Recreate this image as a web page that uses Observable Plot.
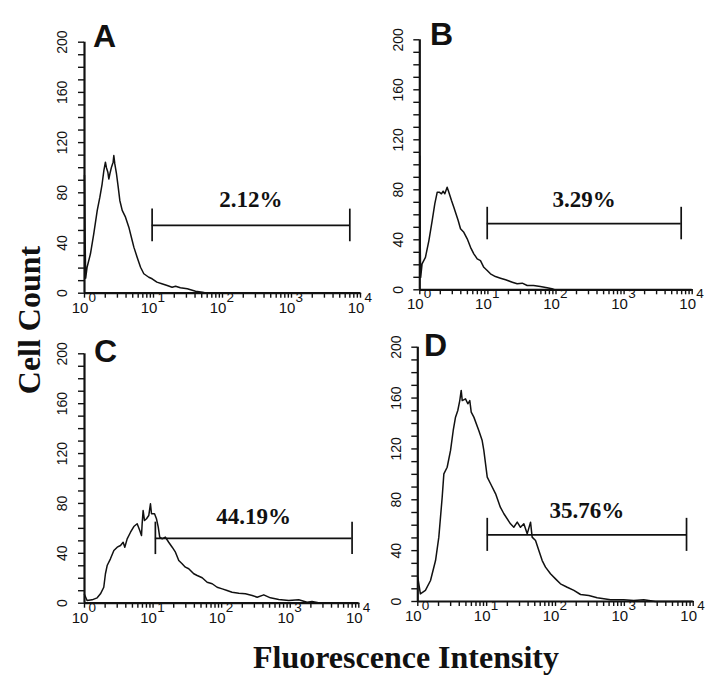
<!DOCTYPE html>
<html><head><meta charset="utf-8">
<script src="https://cdn.jsdelivr.net/npm/d3@7"></script>
<script src="https://cdn.jsdelivr.net/npm/@observablehq/plot@0.6"></script>
<style>
body{margin:0;background:#fff;}
#wrap{position:relative;width:720px;height:686px;overflow:hidden;background:#fff;}
#wrap > svg{display:block;}
</style></head><body><div id="wrap"></div>
<script>
// ---- data ----
const panelLetters = ["A", "B", "C", "D"];
const gatePercent = ["2.12%", "3.29%", "44.19%", "35.76%"];
const gateStart = [9.55, 9.77, 10.8, 10.2];
const gateEnd = [7000, 6890, 7980, 8000];
const gateLevel = [54, 53, 52, 52.4];

const decades = [0, 1, 2, 3, 4];
const yTickLabels = [0, 40, 80, 120, 160, 200];
const xAxisLabel = "Fluorescence Intensity";
const yAxisLabel = "Cell Count";

const intensityA = [1.00, 1.02, 1.04, 1.09, 1.22, 1.36, 1.53, 1.67, 1.80, 1.91, 2.01, 2.08, 2.18, 2.25, 2.33, 2.46, 2.60, 2.66, 2.75, 2.91, 3.08, 3.25, 3.52, 3.93, 4.39, 4.91, 5.19, 5.79, 6.49, 7.24, 8.55, 9.55, 11.2, 13.2, 15.8, 18.6, 20.9, 24.5, 30.9, 40.7, 51.3, 60, 10000];
const countA = [94, 45, 12, 20.7, 31.4, 47, 66, 76.5, 87, 97.8, 104.4, 100, 96.4, 91, 95, 100.4, 104.4, 109.7, 103, 95, 84.5, 73.9, 66, 60.6, 52.6, 42, 36.7, 28.7, 20.7, 15.5, 12.7, 11.5, 8.8, 7.5, 6.1, 4.8, 5.6, 4.3, 3.5, 1.6, 0.8, 0, 0];

const intensityB = [1.00, 1.015, 1.03, 1.08, 1.21, 1.36, 1.52, 1.66, 1.80, 1.95, 2.08, 2.20, 2.33, 2.52, 2.67, 2.92, 3.16, 3.34, 3.66, 3.96, 4.43, 4.97, 5.56, 6.21, 6.97, 7.78, 8.71, 9.77, 10.9, 12.9, 15.3, 18.2, 22.8, 26.9, 31.9, 37.8, 46.8, 58.9, 74.1, 87.1, 95, 10000];
const countB = [107, 35, 10, 20.8, 26, 39.4, 55.4, 68.8, 78, 78, 76.8, 78.9, 76.8, 82, 78, 71.4, 66, 62, 55.4, 48.8, 46, 40.8, 34, 28.8, 24.8, 23.4, 18, 15.4, 12.8, 10.6, 9.3, 8, 6.1, 4.8, 5.3, 3.4, 3.4, 2.6, 1.6, 0.8, 0, 0];

const intensityC = [1.00, 1.09, 1.29, 1.53, 1.71, 1.91, 2.02, 2.14, 2.39, 2.68, 3.00, 3.35, 3.66, 3.87, 4.19, 4.69, 5.24, 5.86, 6.40, 6.78, 6.93, 7.16, 7.50, 8.02, 8.65, 9.16, 9.48, 10.5, 11.2, 11.9, 12.5, 13.6, 15.1, 16.9, 19.0, 21.2, 23.7, 26.5, 29.6, 33.1, 39.2, 44.0, 52.0, 61.5, 72.8, 85.9, 102, 120, 142, 178, 222, 279, 330, 411, 514, 681, 951, 1330, 1760, 2080, 2470, 2800, 10000];
const countC = [7, 2.2, 2.7, 4.3, 7.5, 12.8, 23.6, 30.2, 35.6, 42.3, 44.9, 46.3, 48.9, 44.9, 51.6, 56.9, 61.5, 63.7, 58.3, 54.3, 63.7, 74.3, 66.3, 67.7, 70.3, 79.7, 71.7, 71.7, 67.7, 61, 53, 51.6, 53, 48.9, 44.9, 40.9, 34.2, 31.6, 28.9, 27.6, 23.6, 22.2, 20.4, 16.8, 15.6, 12.8, 11.5, 10.2, 8.8, 8, 7.5, 6.2, 4.8, 6.7, 4.3, 3, 2.2, 2.7, 0.8, 1.4, 0.6, 0, 0];

const intensityD = [1.00, 1.09, 1.29, 1.53, 1.81, 2.02, 2.26, 2.39, 2.67, 2.99, 3.27, 3.53, 3.81, 4.07, 4.27, 4.42, 4.93, 5.33, 5.69, 5.97, 6.52, 7.69, 8.61, 9.10, 10.2, 11.4, 13.5, 15.8, 17.8, 22.2, 24.8, 27.8, 31.0, 34.7, 38.8, 43.4, 45.8, 51.3, 57.3, 64.1, 71.6, 84.5, 100, 118, 148, 185, 231, 305, 403, 504, 630, 977, 1370, 1910, 2400, 2820, 10000];
const countD = [19, 6, 8.7, 16.5, 32.2, 50.6, 82, 100.4, 105.6, 118.8, 134.5, 145, 150.2, 158, 166, 158, 159.4, 155.5, 158, 148.9, 145, 134.5, 126.6, 118.8, 97.8, 92.6, 84.7, 74.2, 69, 61.1, 58.4, 62.4, 58.4, 61.1, 53.2, 62.4, 50.6, 48, 40.1, 32.2, 27, 21.8, 17.8, 13.9, 11.2, 8.7, 5.5, 4.7, 2.9, 2.1, 1.3, 1.3, 0.8, 1.3, 0.5, 0, 0];

const intensities = [intensityA, intensityB, intensityC, intensityD];
const counts = [countA, countB, countC, countD];

// ---- layout (pixel placement of each panel) ----
const layout = [
  {left: 40, top: 8, w: 333, h: 317, x0: 84, x1: 360, yb: 292.7, yt: 41.7, ldx: 20, ldy: -5, pdy: -18},
  {left: 375, top: 8, w: 340, h: 317, x0: 419.3, x1: 691.7, yb: 289.3, yt: 39.3, ldx: 21.7, ldy: -5.3, pdy: -16.5},
  {left: 40, top: 325, w: 333, h: 320, x0: 84, x1: 358.3, yb: 602.7, yt: 353.3, ldx: 21, ldy: -1.6, pdy: -14.5},
  {left: 375, top: 325, w: 340, h: 320, x0: 417.3, x1: 692.7, yb: 601, yt: 346.7, ldx: 17.7, ldy: -1, pdy: -16.5}
];
const padL = 9, padB = 8, padT = 3, padR = 4;   // frame padding so axes and ticks sit inside the frame

const xTicks = [];
for (let d = 0; d < 4; d++) for (let m = 1; m <= 9; m++) xTicks.push(m * 10 ** d);
xTicks.push(10000);
const yTicks = d3.range(0, 201, 10);

const sans = "'Liberation Sans', Arial, Helvetica, sans-serif";
const serif = "'Liberation Serif', 'Times New Roman', serif";

const master = d3.select("#wrap").append("svg")
  .attr("width", 720).attr("height", 686).attr("viewBox", "0 0 720 686");

layout.forEach((L, i) => {
  const series = intensities[i].map((x, k) => ({x, y: counts[i][k]}));
  const gate = {start: gateStart[i], end: gateEnd[i], level: gateLevel[i], pct: gatePercent[i]};
  const k = (L.yb - L.yt) / 200;     // px per count
  const dp = (L.x1 - L.x0) / 4;      // px per decade
  const xTickEnd = -5 / k;           // x-axis tick length (5px) in count units
  const yTickEnd = 10 ** (-6 / dp);  // y-axis tick length (6px) in intensity units
  const chart = Plot.plot({
    width: L.w, height: L.h,
    marginLeft: L.x0 - padL - L.left,
    marginRight: L.left + L.w - (L.x1 + padR),
    marginTop: (L.yt - padT) - L.top,
    marginBottom: L.top + L.h - (L.yb + padB),
    x: {type: "log", domain: [10 ** (-padL / dp), 10 ** (4 + padR / dp)], axis: null},
    y: {domain: [-padB / k, 200 + padT / k], axis: null},
    marks: [
      Plot.ruleX(xTicks, {x: d => d, y1: () => 0, y2: () => xTickEnd, stroke: "#111", strokeWidth: 1.4}),
      Plot.ruleY(yTicks, {y: d => d, x1: () => 1, x2: () => yTickEnd, stroke: "#111", strokeWidth: 1.4}),
      Plot.ruleY([0], {x1: () => 1, x2: () => 10000, strokeWidth: 2.2, stroke: "#111"}),
      Plot.ruleX([1], {y1: () => 0, y2: () => 200, strokeWidth: 2.2, stroke: "#111"}),
      Plot.line(series, {x: "x", y: "y", stroke: "#111", strokeWidth: 1.5}),
      Plot.ruleY([gate], {y: "level", x1: "start", x2: "end", stroke: "#111", strokeWidth: 1.7}),
      Plot.ruleX([gate.start, gate.end], {x: d => d, y1: () => gate.level - 13, y2: () => gate.level + 13, stroke: "#111", strokeWidth: 1.7}),
      Plot.text(decades, {x: d => 10 ** d, y: () => 0, text: () => "10", lineAnchor: "bottom", dy: 19.6, dx: -4.5, fontSize: 15, fill: "#111"}),
      Plot.text(decades, {x: d => 10 ** d, y: () => 0, text: d => String(d), lineAnchor: "bottom", dy: 8.5, dx: 7.8, fontSize: 13.5, fill: "#111"}),
      Plot.text(yTickLabels, {x: () => 1, y: d => d, text: d => String(d), dx: -21.5, rotate: -90, fontSize: 14, fill: "#111"}),
      Plot.text([gate], {x: d => Math.sqrt(d.start * d.end), y: "level", text: "pct", dy: L.pdy, lineAnchor: "bottom", fontFamily: serif, fontWeight: "bold", fontSize: 23, fill: "#111"}),
      Plot.text([panelLetters[i]], {x: () => 1, y: () => 200, text: d => d, dx: L.ldx, dy: L.ldy, textAnchor: "middle", lineAnchor: "middle", fontSize: 32, fontWeight: "bold", fill: "#111"})
    ]
  });
  // place the panel's contents into the single page SVG
  const g = master.append("g").attr("transform", `translate(${L.left},${L.top})`).node();
  for (const a of Array.from(chart.attributes)) {
    if (!["width", "height", "viewBox", "style", "xmlns"].includes(a.name)) g.setAttribute(a.name, a.value);
  }
  g.setAttribute("font-family", sans);
  g.setAttribute("color", "#111");
  while (chart.firstChild) g.appendChild(chart.firstChild);
});

master.append("text")
  .attr("transform", "translate(29,320) rotate(-90)")
  .attr("text-anchor", "middle")
  .attr("dy", "0.34em")
  .attr("font-family", serif)
  .attr("font-weight", "bold")
  .attr("font-size", 32)
  .attr("fill", "#111")
  .text(yAxisLabel);

master.append("text")
  .attr("x", 406).attr("y", 668)
  .attr("text-anchor", "middle")
  .attr("font-family", serif)
  .attr("font-weight", "bold")
  .attr("font-size", 32)
  .attr("fill", "#111")
  .text(xAxisLabel);
</script>
</body></html>
